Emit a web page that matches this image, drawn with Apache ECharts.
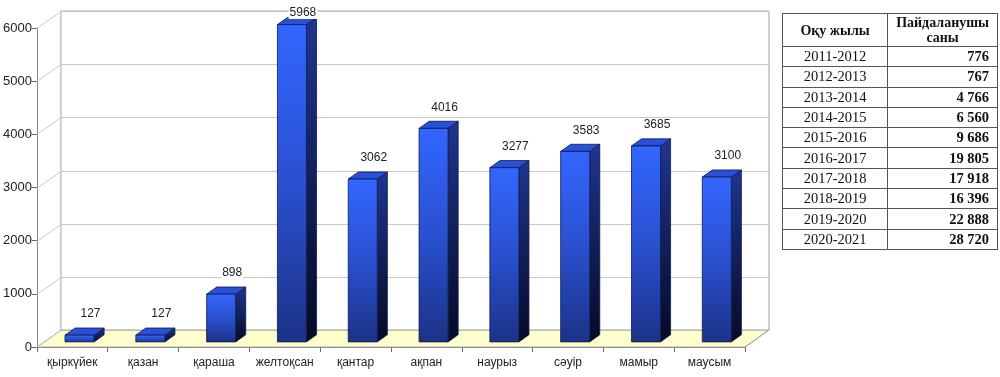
<!DOCTYPE html>
<html>
<head>
    <meta charset="UTF-8">
    <title>Users by month</title>
    <script type="text/javascript" src="https://cdn.jsdelivr.net/npm/echarts@6/dist/echarts.min.js"></script>
    <style>
        body { margin: 0; background: #ffffff; }
        #wrap { position: relative; width: 1000px; height: 377px; }
        #chart { position: absolute; left: 0; top: 0; width: 1000px; height: 377px; }
        #usersTable {
            position: absolute; left: 782px; top: 13px; width: 216px;
            border-collapse: collapse; font-family: "Liberation Serif", serif;
            font-size: 14.5px; color: #111;
        }
        #usersTable th, #usersTable td { border: 1px solid #555; padding: 0 8px; }
        #usersTable th { height: 32px; font-size: 14px; line-height: 15px; font-weight: bold; }
        #usersTable td { height: 19.3px; line-height: 19px; }
        #usersTable td.yr { text-align: center; width: 90px; }
        #usersTable td.num { text-align: right; font-weight: bold; }
    </style>
</head>
<body>
<div id="wrap">
    <div id="chart"></div>
    <table id="usersTable">
        <thead><tr><th>Оқу жылы</th><th>Пайдаланушы<br>саны</th></tr></thead>
        <tbody></tbody>
    </table>
</div>
<script>
    // months and values of the bar chart
    var months = ['қыркүйек', 'қазан', 'қараша', 'желтоқсан', 'қантар', 'ақпан', 'наурыз', 'сәуір', 'мамыр', 'маусым'];
    var visits = [127, 127, 898, 5968, 3062, 4016, 3277, 3583, 3685, 3100];
    var yMax = 6000, yStep = 1000;

    // table on the right
    var years = ['2011-2012', '2012-2013', '2013-2014', '2014-2015', '2015-2016',
                 '2016-2017', '2017-2018', '2018-2019', '2019-2020', '2020-2021'];
    var users = [776, 767, 4766, 6560, 9686, 19805, 17918, 16396, 22888, 28720];

    function fmt(n) {
        return String(n).replace(/\B(?=(\d{3})+(?!\d))/g, ' ');
    }
    var tbody = document.querySelector('#usersTable tbody');
    years.forEach(function (y, k) {
        var tr = document.createElement('tr');
        tr.innerHTML = '<td class="yr">' + y + '</td><td class="num">' + fmt(users[k]) + '</td>';
        tbody.appendChild(tr);
    });

    // depth of the 3d box
    var DX = 24, DY = -17;

    var chart = echarts.init(document.getElementById('chart'), null, {renderer: 'canvas'});

    function renderRoom(params, api) {
        var cs = params.coordSys;
        var x0 = cs.x, x1 = cs.x + cs.width, yb = cs.y + cs.height;
        var kids = [];
        // floor
        kids.push({type: 'polygon', shape: {points: [[x0, yb], [x1, yb], [x1 + DX, yb + DY], [x0 + DX, yb + DY]]},
            style: {fill: '#ffffcc', stroke: '#b0b0b0', lineWidth: 1}});
        // back wall
        var yt = api.coord([0, yMax])[1];
        kids.push({type: 'rect', shape: {x: x0 + DX, y: yt + DY, width: x1 - x0, height: yb - yt},
            style: {fill: '#ffffff', stroke: '#a0a0a0', lineWidth: 1}});
        for (var v = 0; v <= yMax; v += yStep) {
            var yy = Math.round(api.coord([0, v])[1]) + 0.5;
            if (v > 0) {
                kids.push({type: 'line', shape: {x1: x0 + DX, y1: yy + DY, x2: x1 + DX, y2: yy + DY},
                    style: {stroke: '#c8c8c8', lineWidth: 1}});
            }
            kids.push({type: 'line', shape: {x1: x0, y1: yy, x2: x0 + DX, y2: yy + DY},
                style: {stroke: '#c8c8c8', lineWidth: 1}});
        }
        kids.push({type: 'line', shape: {x1: x1, y1: yb, x2: x1 + DX, y2: yb + DY},
            style: {stroke: '#a0a0a0', lineWidth: 1}});
        return {type: 'group', children: kids};
    }

    function renderBar(params, api) {
        var i = api.value(0), v = api.value(1);
        var base = api.coord([i, 0]);
        var top = api.coord([i, v]);
        var bw = api.size([1, 0])[0] * 0.41;
        var f1 = 0.3, f2 = 0.72;
        var ox = DX * f1, oy = DY * f1;
        var sx = DX * (f2 - f1), sy = DY * (f2 - f1);
        var l = base[0] + ox - bw / 2, r = base[0] + ox + bw / 2;
        var b = base[1] + oy, t = top[1] + oy;
        var edge = '#0c1a4a';
        return {
            type: 'group',
            children: [
                {type: 'polygon', shape: {points: [[r, t], [r + sx, t + sy], [r + sx, b + sy], [r, b]]},
                    style: {fill: new echarts.graphic.LinearGradient(0, 0, 0, 1, [
                        {offset: 0, color: '#1f3590'}, {offset: 1, color: '#050a25'}]),
                        stroke: edge, lineWidth: 0.8}},
                {type: 'polygon', shape: {points: [[l, t], [r, t], [r + sx, t + sy], [l + sx, t + sy]]},
                    style: {fill: '#2a4fd8', stroke: edge, lineWidth: 0.8}},
                {type: 'rect', shape: {x: l, y: t, width: bw, height: b - t},
                    style: {fill: new echarts.graphic.LinearGradient(0, 0, 0, 1, [
                        {offset: 0, color: '#3366ff'}, {offset: 0.5, color: '#2a50d0'}, {offset: 1, color: '#1c3288'}]),
                        stroke: edge, lineWidth: 0.8}},
                {type: 'text', x: base[0] + ox + 11, y: Math.max(t - 15, 19),
                    style: {text: String(v), fill: '#222', font: '12px "Liberation Sans", Arial, sans-serif',
                        align: 'center', verticalAlign: 'bottom', backgroundColor: '#fff', padding: [0, 1]}}
            ]
        };
    }

    var option = {
        animation: false,
        grid: {left: 36, right: 255, top: 28, bottom: 30},
        xAxis: {
            type: 'category',
            data: months,
            axisLine: {lineStyle: {color: '#666', width: 1}},
            axisTick: {show: true, length: 5, lineStyle: {color: '#666'}},
            axisLabel: {interval: 0, color: '#222', fontSize: 12, fontFamily: '"Liberation Sans", Arial, sans-serif', margin: 10}
        },
        yAxis: {
            type: 'value',
            min: 0, max: yMax, interval: yStep,
            axisLine: {show: true, lineStyle: {color: '#888', width: 1}},
            axisTick: {show: true, length: 5, lineStyle: {color: '#666'}},
            splitLine: {show: false},
            axisLabel: {formatter: function (v) { return String(v); }, color: '#222', fontSize: 13,
                fontFamily: '"Liberation Sans", Arial, sans-serif', margin: 5}
        },
        series: [
            {
                type: 'custom',
                renderItem: renderRoom,
                data: [[0, 0]],
                silent: true,
                z: 1
            },
            {
                type: 'custom',
                renderItem: renderBar,
                data: visits.map(function (v, i) { return [i, v]; }),
                z: 5
            }
        ]
    };
    chart.setOption(option);
</script>
</body>
</html>
